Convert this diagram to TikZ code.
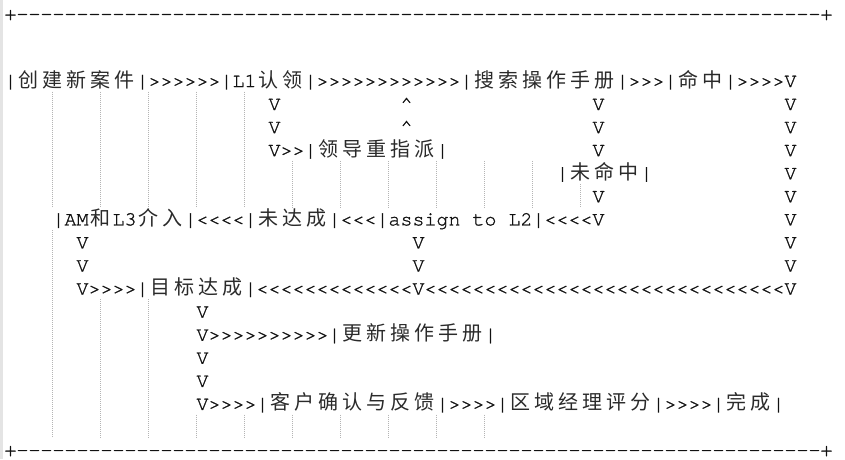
\documentclass[tikz,border=0pt]{standalone}
\usepackage{fontspec}
\setmonofont{TeX Gyre Cursor}[FakeBold=1.2]
\newfontfamily\cjkfont{Noto Sans CJK SC}

\definecolor{ink}{HTML}{111111}
\definecolor{cjkink}{HTML}{2A2A2A}
\definecolor{guidegray}{HTML}{B4B4B4}
\definecolor{margin}{HTML}{E4E4E4}

% one column of the text grid, a CJK sign takes two
\newlength\cw
\setlength\cw{12pt}
\let\zhend\relax
\newcommand\zh[1]{\zhnext#1\zhend}
\def\zhnext#1{\ifx#1\zhend\else\makebox[2\cw]{\cjkfont\color{cjkink}#1}\expandafter\zhnext\fi}
\newcommand\rep[2]{\foreach \j in {1,...,#1}{#2}}

\tikzset{
    row/.style={anchor=base west, inner sep=0pt, outer sep=0pt, text=ink, font=\fontsize{20pt}{23pt}\selectfont\ttfamily},
    guide/.style={draw=guidegray, line width=0.7pt, dash pattern=on 1pt off 1pt},
}

\begin{document}
\begin{tikzpicture}[x=12pt, y=-23.07pt]
\useasboundingbox (0,0) rectangle (70.4167,19.896);

% editor margin
\fill[margin] (0,0) rectangle (0.22,19.896);

\begin{scope}[shift={(0.375,2.771)}]
% indent guides
\foreach \k in {1,...,5} \draw[guide] (4*\k,1.2) -- (4*\k,6.2);
\foreach \k in {6,...,11} \draw[guide] (4*\k,4.2) -- (4*\k,6.2);
\draw[guide] (48,5.2) -- (48,6.2);
\draw[guide] (4,7.2) -- (4,16.2);
\foreach \k in {2,3} \draw[guide] (4*\k,10.2) -- (4*\k,16.2);
\foreach \k in {4,...,10} \draw[guide] (4*\k,15.2) -- (4*\k,16.2);

% frame
\node[row] (top) at (0,-1.9) {+\rep{67}{-}+};
\node[row] (bottom) at (0,17) {+\rep{67}{-}+};

% main line
\node[row] (r1) at (0,1) {|\zh{创建新案件}|\rep{6}{>}|L1\zh{认领}|\rep{12}{>}|\zh{搜索操作手册}|\rep{3}{>}|\zh{命中}|\rep{4}{>}V};
\node[row] (r2a) at (22,2) {V};
\node[row] (r2b) at (33,2) {\textasciicircum};
\node[row] (r2c) at (49,2) {V};
\node[row] (r2d) at (65,2) {V};
\node[row] (r3a) at (22,3) {V};
\node[row] (r3b) at (33,3) {\textasciicircum};
\node[row] (r3c) at (49,3) {V};
\node[row] (r3d) at (65,3) {V};
\node[row] (r4a) at (22,4) {V>>|\zh{领导重指派}|};
\node[row] (r4c) at (49,4) {V};
\node[row] (r4d) at (65,4) {V};
\node[row] (r5a) at (46,5) {|\zh{未命中}|};
\node[row] (r5d) at (65,5) {V};
\node[row] (r6c) at (49,6) {V};
\node[row] (r6d) at (65,6) {V};

% escalation
\node[row] (r7) at (4,7) {|AM\zh{和}L3\zh{介入}|\rep{4}{<}|\zh{未达成}|\rep{3}{<}|assign~to~L2|\rep{4}{<}V};
\node[row] (r7d) at (65,7) {V};
\node[row] (r8a) at (6,8) {V};
\node[row] (r8b) at (34,8) {V};
\node[row] (r8d) at (65,8) {V};
\node[row] (r9a) at (6,9) {V};
\node[row] (r9b) at (34,9) {V};
\node[row] (r9d) at (65,9) {V};
\node[row] (r10) at (6,10) {V\rep{4}{>}|\zh{目标达成}|\rep{13}{<}V\rep{30}{<}V};

% closing
\node[row] (r11) at (16,11) {V};
\node[row] (r12) at (16,12) {V\rep{10}{>}|\zh{更新操作手册}|};
\node[row] (r13) at (16,13) {V};
\node[row] (r14) at (16,14) {V};
\node[row] (r15) at (16,15) {V\rep{4}{>}|\zh{客户确认与反馈}|\rep{4}{>}|\zh{区域经理评分}|\rep{4}{>}|\zh{完成}|};
\end{scope}

\end{tikzpicture}
\end{document}
